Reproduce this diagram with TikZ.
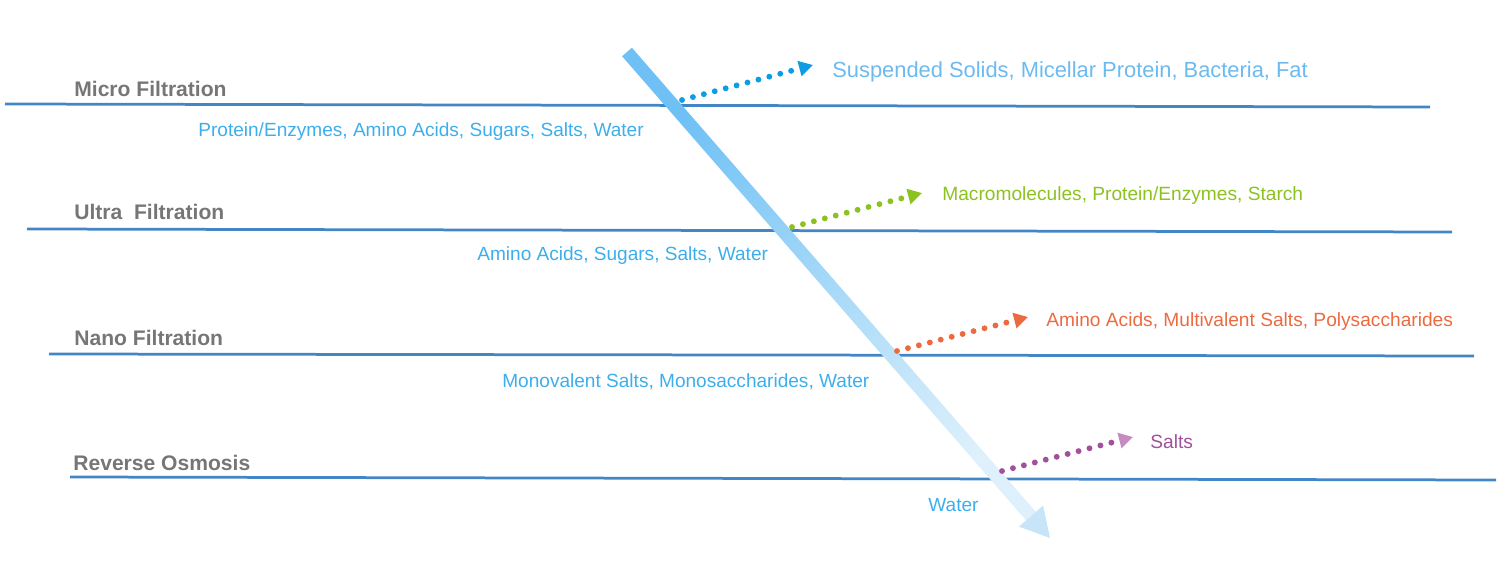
\documentclass[tikz,border=0pt]{standalone}
\usepackage{fontspec}
\setmainfont{Liberation Sans}
\usetikzlibrary{arrows.meta,calc}

\definecolor{stagegray}{HTML}{767676}
\definecolor{stageline}{HTML}{4386C6}
\definecolor{passblue}{HTML}{3DAEEC}
\definecolor{rejblue}{HTML}{6BBAF0}
\definecolor{dotblue}{HTML}{0E9DE3}
\definecolor{rejgreen}{HTML}{8CC220}
\definecolor{rejorange}{HTML}{EC6A40}
\definecolor{rejpurple}{HTML}{A24F9C}
\definecolor{headpurple}{HTML}{C68CC2}
\definecolor{flowstart}{HTML}{6FC1F5}
\definecolor{flowend}{HTML}{DDF0FB}
\definecolor{flowhead}{HTML}{C8E4F8}

\tikzset{
  stage/.style={anchor=base west, inner sep=0pt, text=stagegray, font=\fontsize{12}{14}\selectfont\bfseries},
  passed/.style={anchor=base west, inner sep=0pt, text=passblue, font=\fontsize{10.85}{13}\selectfont},
  rejected/.style={anchor=base west, inner sep=0pt, font=\fontsize{10.9}{13}\selectfont},
  membrane/.style={stageline, line width=0.055cm},
  dotflow/.style={line width=0.118cm, line cap=round, dash pattern=on 0pt off 0.226cm, -{Triangle[length=0.28cm,width=0.3cm]}},
}

\begin{document}
\begin{tikzpicture}[x=0.02cm, y=-0.02cm]
\useasboundingbox (0,0) rectangle (1500,567);

\coordinate (MFa) at (5,104);
\coordinate (MFb) at (1430,107);
\coordinate (UFa) at (27,229);
\coordinate (UFb) at (1452,232);
\coordinate (NFa) at (49,354);
\coordinate (NFb) at (1474,356);
\coordinate (ROa) at (70,477);
\coordinate (ROb) at (1496,480);

% membranes
\draw[membrane] (MFa) -- (MFb);
\draw[membrane] (UFa) -- (UFb);
\draw[membrane] (NFa) -- (NFb);
\draw[membrane] (ROa) -- (ROb);

\node[stage] (mf) at (74,97) {Micro Filtration};
\node[stage] (uf) at (74,220) {Ultra\ \ Filtration};
\node[stage] (nf) at (74,345) {Nano Filtration};
\node[stage] (ro) at (73,470) {Reverse Osmosis};

% feed stream
\coordinate (feed) at (627,52);
\coordinate (tip) at (1050,538);
\coordinate (neck) at ($(tip)!0.045!(feed)$);
\shade[top color=flowstart, bottom color=flowend, shading angle=41]
  ($(feed)!0.13cm!90:(neck)$) -- ($(neck)!0.13cm!-90:(feed)$)
  -- ($(neck)!0.13cm!90:(feed)$) -- ($(feed)!0.13cm!-90:(neck)$) -- cycle;
\fill[flowhead] ($(neck)!0.32cm!90:(feed)$) -- (tip) -- ($(neck)!0.32cm!-90:(feed)$) -- cycle;

% retained
\coordinate (mfsplit) at (682,100);
\coordinate (mfend) at (813,65);
\coordinate (ufsplit) at (792,227);
\coordinate (ufend) at (922,193);
\coordinate (nfsplit) at (897,351);
\coordinate (nfend) at (1028,317);
\coordinate (rosplit) at (1002,471);
\coordinate (roend) at (1133,437);

\draw[dotflow, dotblue] (mfsplit) -- (mfend);
\draw[dotflow, rejgreen] (ufsplit) -- (ufend);
\draw[dotflow, rejorange] (nfsplit) -- (nfend);
\draw[dotflow, rejpurple, -{Triangle[length=0.28cm,width=0.3cm,color=headpurple]}] (rosplit) -- (roend);

\node[rejected, text=rejblue, font=\fontsize{12.45}{15}\selectfont] (mfout) at (832,78) {Suspended Solids, Micellar Protein, Bacteria, Fat};
\node[rejected, text=rejgreen] (ufout) at (942,201) {Macromolecules, Protein/Enzymes, Starch};
\node[rejected, text=rejorange] (nfout) at (1046,327) {Amino Acids, Multivalent Salts, Polysaccharides};
\node[rejected, text=rejpurple] (roout) at (1150,448) {Salts};

% permeate
\node[passed] (mfpass) at (198,137) {Protein/Enzymes, Amino Acids, Sugars, Salts, Water};
\node[passed] (ufpass) at (477,261) {Amino Acids, Sugars, Salts, Water};
\node[passed] (nfpass) at (502,387) {Monovalent Salts, Monosaccharides, Water};
\node[passed] (ropass) at (928,511) {Water};

\end{tikzpicture}
\end{document}
